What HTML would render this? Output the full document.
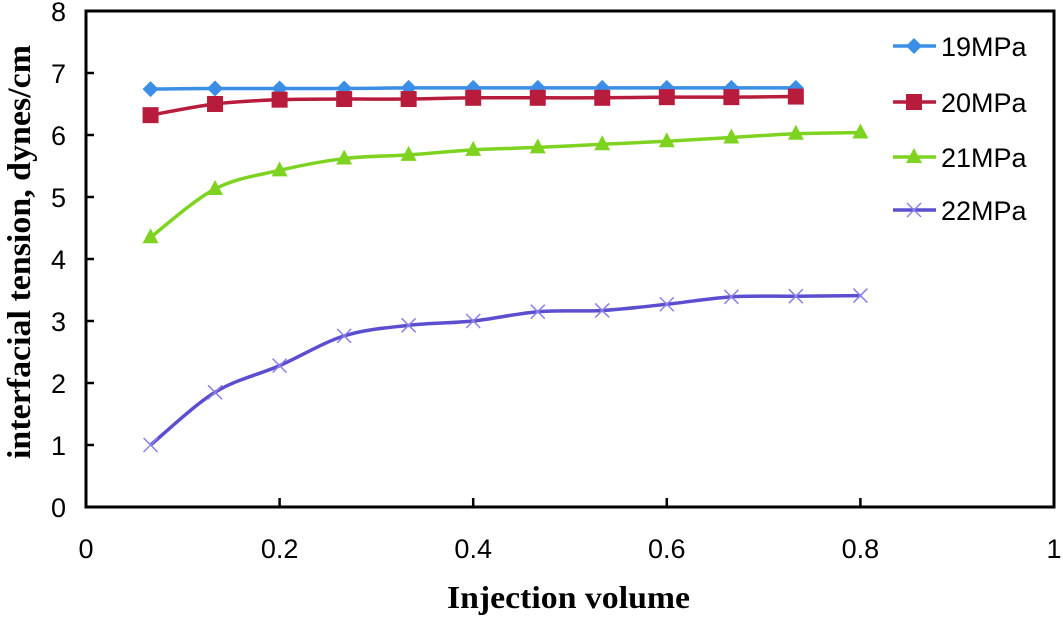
<!DOCTYPE html>
<html><head><meta charset="utf-8"><style>
body{margin:0;background:#fff;width:1063px;height:616px;overflow:hidden}
text{font-family:"Liberation Sans",sans-serif}
</style></head><body>
<svg id="chart" width="1063" height="616" xmlns="http://www.w3.org/2000/svg"></svg>
<script>
const xVals=[0.0667,0.1333,0.2,0.2667,0.3333,0.4,0.4667,0.5333,0.6,0.6667,0.7333,0.8];
const s19=[6.74,6.75,6.75,6.75,6.76,6.76,6.76,6.76,6.76,6.76,6.76];
const s20=[6.32,6.5,6.57,6.58,6.58,6.6,6.6,6.6,6.61,6.61,6.62];
const s21=[4.35,5.13,5.43,5.62,5.68,5.76,5.8,5.85,5.9,5.96,6.02,6.04];
const s22=[1.0,1.85,2.28,2.76,2.93,3.0,3.15,3.17,3.27,3.39,3.4,3.41];
const xTicks=[0,0.2,0.4,0.6,0.8,1];
const xTickLabels=["0","0.2","0.4","0.6","0.8","1"];
const yTicks=[0,1,2,3,4,5,6,7,8];
const seriesNames=["19MPa","20MPa","21MPa","22MPa"];
const seriesColors=["#3a8ee6","#b81c3c","#7ed321","#5b4fd0"];
const seriesMarkers=["diamond","square","triangle","x"];

const NS="http://www.w3.org/2000/svg";
const svg=document.getElementById('chart');
const L=86,R=1054,T=11,B=507;
const X=v=>L+(v-0)/(1-0)*(R-L);
const Y=v=>B-(v/8)*(B-T);
function el(tag,attrs,parent){const e=document.createElementNS(NS,tag);for(const k in attrs)e.setAttribute(k,attrs[k]);(parent||svg).appendChild(e);return e;}

const frame=el('rect',{x:L,y:T,width:R-L,height:B-T,fill:'none',stroke:'#000','stroke-width':3});



yTicks.forEach(v=>{
  const t=el('line',{x1:L,x2:L+8,y1:Y(v),y2:Y(v),stroke:'#000','stroke-width':2.5});
  
  
  const tx=el('text',{x:66,y:Y(v)+10,'text-anchor':'end','font-size':27,fill:'#000'});
  tx.textContent=String(v);
  
  
});
xTicks.forEach((v,i)=>{
  const t=el('line',{x1:X(v),x2:X(v),y1:B,y2:B-9,stroke:'#000','stroke-width':2.5});
  
  
  const tx=el('text',{x:X(v),y:558,'text-anchor':'middle','font-size':27,fill:'#000'});
  tx.textContent=xTickLabels[i];
  
  
});

const xt=el('text',{x:447,y:608,'font-size':32,'font-weight':'bold',textLength:243,lengthAdjust:'spacingAndGlyphs',style:'font-family:"Liberation Serif",serif'});
xt.textContent='Injection volume';


const yt=el('text',{x:-459,y:30,'font-size':33,'font-weight':'bold',textLength:414,lengthAdjust:'spacingAndGlyphs',transform:'rotate(-90)',style:'font-family:"Liberation Serif",serif'});
yt.textContent='interfacial tension,  dynes/cm';



function smoothPath(pts){
  let d='M'+pts[0][0]+','+pts[0][1];
  for(let i=0;i<pts.length-1;i++){
    const p0=pts[i-1]||pts[i],p1=pts[i],p2=pts[i+1],p3=pts[i+2]||p2;
    const c1=[p1[0]+(p2[0]-p0[0])/6,p1[1]+(p2[1]-p0[1])/6];
    const c2=[p2[0]-(p3[0]-p1[0])/6,p2[1]-(p3[1]-p1[1])/6];
    d+=` C${c1[0]},${c1[1]} ${c2[0]},${c2[1]} ${p2[0]},${p2[1]}`;
  }
  return d;
}
function marker(type,cx,cy,color,g){
  let m;
  if(type==='diamond') m=el('polygon',{points:`${cx},${cy-8} ${cx+8},${cy} ${cx},${cy+8} ${cx-8},${cy}`,fill:color},g);
  else if(type==='square') m=el('rect',{x:cx-8,y:cy-8,width:16,height:16,fill:color},g);
  else if(type==='triangle') m=el('polygon',{points:`${cx},${cy-9} ${cx+8},${cy+6} ${cx-8},${cy+6}`,fill:color},g);
  else { m=el('path',{d:`M${cx-7},${cy-7}L${cx+7},${cy+7}M${cx-7},${cy+7}L${cx+7},${cy-7}`,stroke:'#8a80e6','stroke-width':1.5,fill:'none'},g); }
  return m;
}
[s19,s20,s21,s22].forEach((s,k)=>{
  const g=el('g',{});
  
  
  const pts=s.map((v,i)=>[X(xVals[i]),Y(v)]);
  const p=el('path',{d:smoothPath(pts),fill:'none',stroke:seriesColors[k],'stroke-width':3.5},g);
  
  
  pts.forEach(pt=>{
    const m=marker(seriesMarkers[k],pt[0],pt[1],seriesColors[k],g);
    
    
  });
  const ly=[46,102,157,210][k];
  const lg=el('g',{},g);
  
  
  el('line',{x1:893,x2:936,y1:ly,y2:ly,stroke:seriesColors[k],'stroke-width':3.5},lg);
  marker(seriesMarkers[k],914,ly,seriesColors[k],lg);
  const tx=el('text',{x:941,y:ly+10,'font-size':27,fill:'#000'},lg);
  tx.textContent=seriesNames[k];
});
</script>
</body></html>
